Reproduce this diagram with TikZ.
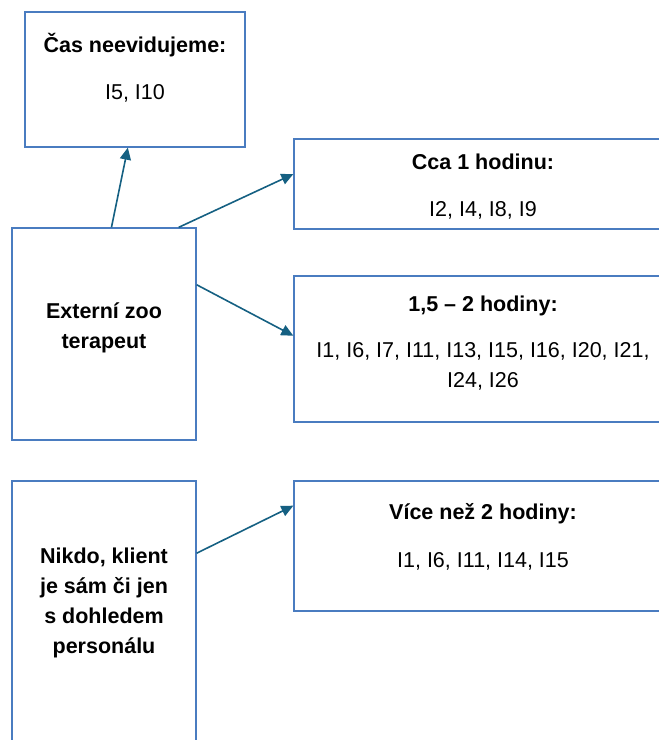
\documentclass[tikz,border=0pt]{standalone}
\usepackage{fontspec}
\setmainfont{Liberation Sans}
\usetikzlibrary{arrows.meta,positioning}
\definecolor{boxblue}{RGB}{74,124,192}
\definecolor{arrowblue}{RGB}{21,96,130}

\begin{document}
\begin{tikzpicture}[x=1pt,y=-1pt,>={Triangle[length=12pt,width=11pt]},
  tbox/.style={draw=boxblue,line width=1.3pt,rectangle,inner sep=0pt},
  lbl/.style={align=center,inner sep=0pt,anchor=north,font=\fontsize{21.5}{30}\selectfont},
  conn/.style={->,draw=arrowblue,line width=1.6pt}]
  \clip (0,0) rectangle (659,740);
  % boxes
  \node[tbox,minimum width=220pt,minimum height=135pt] (cas) at (135,79.5) {};
  \node[tbox,minimum width=184pt,minimum height=212pt] (ext) at (104,334) {};
  \node[tbox,minimum width=184pt,minimum height=279pt] (nikdo) at (104,620.5) {};
  \node[tbox,minimum width=378pt,minimum height=90pt] (hod1) at (483,184) {};
  \node[tbox,minimum width=378pt,minimum height=146pt] (hod2) at (483,349) {};
  \node[tbox,minimum width=378pt,minimum height=130pt] (vice) at (483,546) {};
  % texts
  \node[lbl] (castxt) [below=19.5pt of cas.north] {\strut\textbf{Čas neevidujeme:}\\[17pt]I5, I10};
  \node[lbl] (exttxt) [below=69.5pt of ext.north] {\strut\textbf{Externí zoo}\\\textbf{terapeut}};
  \node[lbl] (nikdotxt) [below=62pt of nikdo.north] {\strut\textbf{Nikdo, klient}\\\textbf{je sám či jen}\\\textbf{s dohledem}\\\textbf{personálu}};
  \node[lbl] (hod1txt) [below=10pt of hod1.north] {\strut\textbf{Cca 1 hodinu:}\\[17pt]I2, I4, I8, I9};
  \node[lbl] (hod2txt) [below=14.7pt of hod2.north] {\strut\textbf{1,5 – 2 hodiny:}\\[16pt]I1, I6, I7, I11, I13, I15, I16, I20, I21,\\I24, I26};
  \node[lbl] (vicetxt) [below=18pt of vice.north] {\strut\textbf{Více než 2 hodiny:}\\[18pt]I1, I6, I11, I14, I15};
  % arrows
  \draw[conn] (ext.86.8) -- (cas.264.9);
  \draw[conn] (ext.55.1) -- (hod1.177.3);
  \draw[conn] (ext.28.4) -- (hod2.176.4);
  \draw[conn] (nikdo.36.3) -- (vice.168.05);
\end{tikzpicture}
\end{document}
